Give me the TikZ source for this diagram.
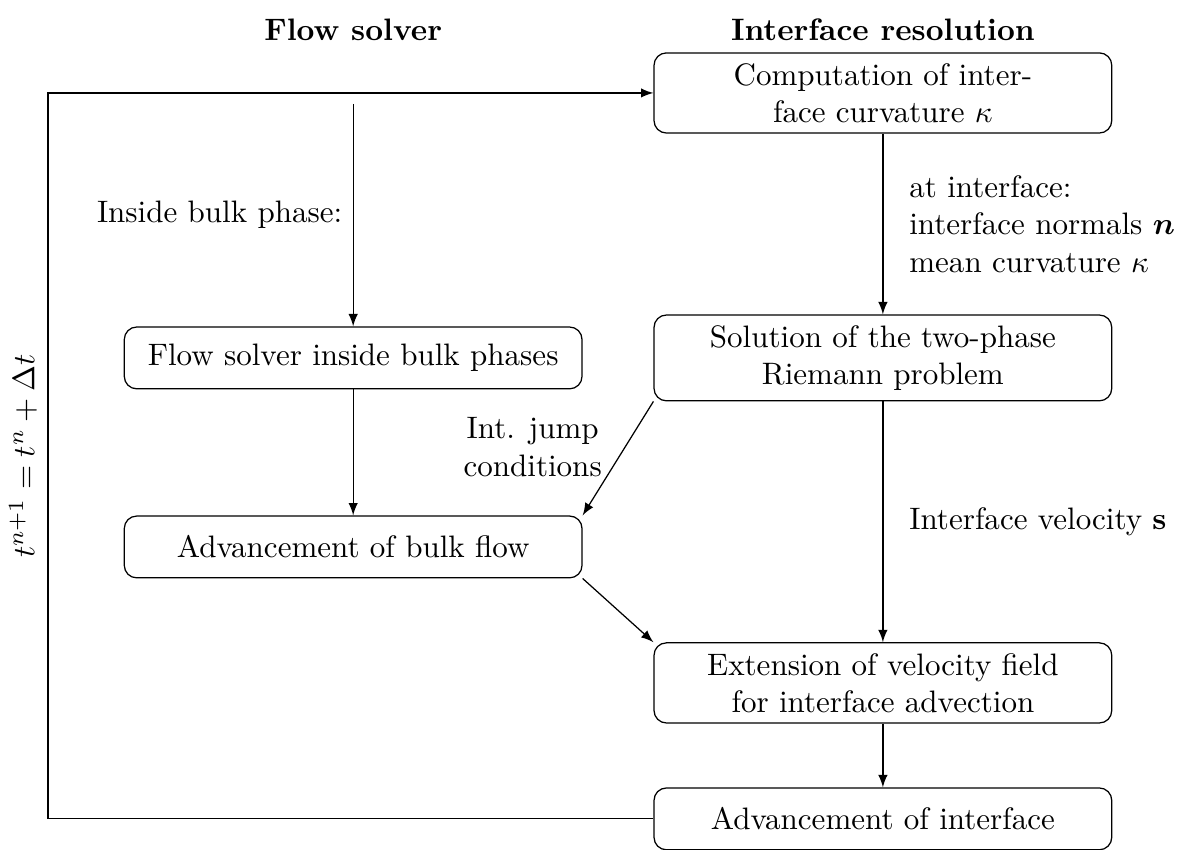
\documentclass[tikz,border=0pt]{standalone}
\usepackage{amsmath,amssymb}
\usepackage{tikz}
\usetikzlibrary{calc}
\usetikzlibrary{positioning}

\begin{document}
\begin{tikzpicture}[>=latex,
  box/.style={draw, rounded corners, text width=4.95cm, align=center, minimum height=0.7cm},
  head/.style={font=\bfseries}]
  \useasboundingbox (0,0) rectangle (13.49,-9.626);
  % column titles
  \node[head] (FlowHead) at (4,-0.34) {Flow solver};
  \node[head] (IntHead) at (10,-0.34) {Interface resolution};
  % interface side
  \node[box] (CompCurv) at (10,-1.053) {Computation of inter-\\face curvature $\kappa$};
  \node[box] (Riemann) at (10,-4.054) {Solution of the two-phase\\Riemann problem};
  \node[box] (ExtVel) at (10,-7.735) {Extension of velocity field\\for interface advection};
  \node[box] (AdvInt) at (10,-9.275) {Advancement of interface};
  % flow side
  \node[box] (FlowBulk) at (4,-4.054) {Flow solver inside bulk phases};
  \node[box] (AdvBulk) at (4,-6.195) {Advancement of bulk flow};
  \coordinate (BulkIn) at (4,-1.178);
  \coordinate (LoopX) at (0.544,0);
  \path[->]
  (BulkIn) edge node[midway,left] {Inside bulk phase:} (FlowBulk)
  (FlowBulk) edge (AdvBulk)
  (CompCurv) edge node[midway,right=5pt,align=left] {at interface:\\interface normals $\boldsymbol{n}$\\mean curvature $\kappa$} (Riemann)
  (Riemann.south west) edge node[pos=0.4,left=4pt,align=center] {Int. jump\\conditions} (AdvBulk.north east)
  (Riemann) edge node[midway,right=5pt] {Interface velocity $\mathbf{s}$} (ExtVel)
  (AdvBulk.south east) edge (ExtVel.north west)
  (ExtVel) edge (AdvInt);
  % time step loop
  \draw[->] (AdvInt.west) -- (AdvInt.west -| LoopX)
    -- node[midway,above,sloped] {$t^{n+1} = t^n + \Delta t$} (CompCurv.west -| LoopX)
    -- (CompCurv.west);
\end{tikzpicture}
\end{document}
